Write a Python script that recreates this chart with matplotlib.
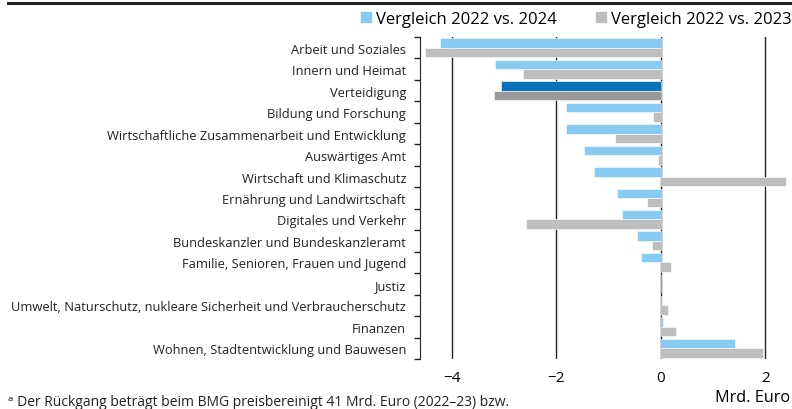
import matplotlib
matplotlib.use("Agg")
import matplotlib.pyplot as plt
import numpy as np
from matplotlib.patches import Patch
from matplotlib.lines import Line2D

plt.rcParams['font.family'] = ['Open Sans', 'DejaVu Sans']

categories = [
    "Arbeit und Soziales",
    "Innern und Heimat",
    "Verteidigung",
    "Bildung und Forschung",
    "Wirtschaftliche Zusammenarbeit und Entwicklung",
    "Auswärtiges Amt",
    "Wirtschaft und Klimaschutz",
    "Ernährung und Landwirtschaft",
    "Digitales und Verkehr",
    "Bundeskanzler und Bundeskanzleramt",
    "Familie, Senioren, Frauen und Jugend",
    "Justiz",
    "Umwelt, Naturschutz, nukleare Sicherheit und Verbraucherschutz",
    "Finanzen",
    "Wohnen, Stadtentwicklung und Bauwesen",
]
vs2024 = [-4.23, -3.17, -3.06, -1.82, -1.82, -1.47, -1.28, -0.84, -0.75, -0.46, -0.38, 0.0, 0.02, 0.04, 1.41]
vs2023 = [-4.51, -2.64, -3.19, -0.15, -0.88, -0.06, 2.39, -0.27, -2.58, -0.17, 0.19, 0.0, 0.14, 0.29, 1.95]
highlight = "Verteidigung"
xticks = [-4, -2, 0, 2]

c_blue, c_blue_dark = "#87CBF2", "#0A72B8"
c_gray, c_gray_dark = "#BEBEBE", "#999999"

fig = plt.figure(figsize=(7.92, 4.10), dpi=100)
ax = fig.add_axes([420/792, 1-360/410, 370/792, (360-38)/410])

n = len(categories)
y = np.arange(n)
h = 0.44
cb = [c_blue_dark if c == highlight else c_blue for c in categories]
cg = [c_gray_dark if c == highlight else c_gray for c in categories]

for xv in xticks:
    ax.axvline(xv, color="#222222", lw=1.0, zorder=1)
ax.barh(y - h/2, vs2024, height=h, color=cb, edgecolor="white", linewidth=0.4, zorder=2)
ax.barh(y + h/2, vs2023, height=h, color=cg, edgecolor="white", linewidth=0.4, zorder=2)

ax.set_xlim(-4.61, 2.47)
ax.set_ylim(n - 0.5, -0.5)
ax.set_yticks(y)
ax.set_yticklabels(categories, fontsize=9.3, color="#222222")
ax.tick_params(axis='y', length=0, pad=10)
ax.set_yticks(np.arange(n + 1) - 0.5, minor=True)
ax.tick_params(axis='y', which='minor', length=4, width=1, color="#222222", direction='out')
ax.set_xticks(xticks)
ax.set_xticklabels(["\u22124", "\u22122", "0", "2"], fontsize=11)
ax.tick_params(axis='x', length=0, pad=8)
for s in ["top", "right", "bottom"]:
    ax.spines[s].set_visible(False)
ax.spines["left"].set_color("#222222")

fig.text(790/792, 1-398/410, "Mrd. Euro", ha="right", va="center", fontsize=11.7)

# top rule
fig.add_artist(Line2D([8/792, 1], [1-4/410, 1-4/410], color="#222222", lw=2.2, transform=fig.transFigure))

handles = [Patch(color=c_blue), Patch(color=c_gray)]
fig.legend(handles, ["Vergleich 2022 vs. 2024", "Vergleich 2022 vs. 2023"],
           loc="center right", bbox_to_anchor=(792/792, 1-20/410), ncol=2, frameon=False,
           fontsize=12, handlelength=0.6, handleheight=0.6, handletextpad=0.3,
           columnspacing=2.4, borderaxespad=0, borderpad=0)

fig.text(8/792, 1-403/410, "\u1d43 Der Rückgang beträgt beim BMG preisbereinigt 41 Mrd. Euro (2022–23) bzw.",
         ha="left", va="center", fontsize=10, color="#222222")

fig.savefig("out.png", dpi=100)
